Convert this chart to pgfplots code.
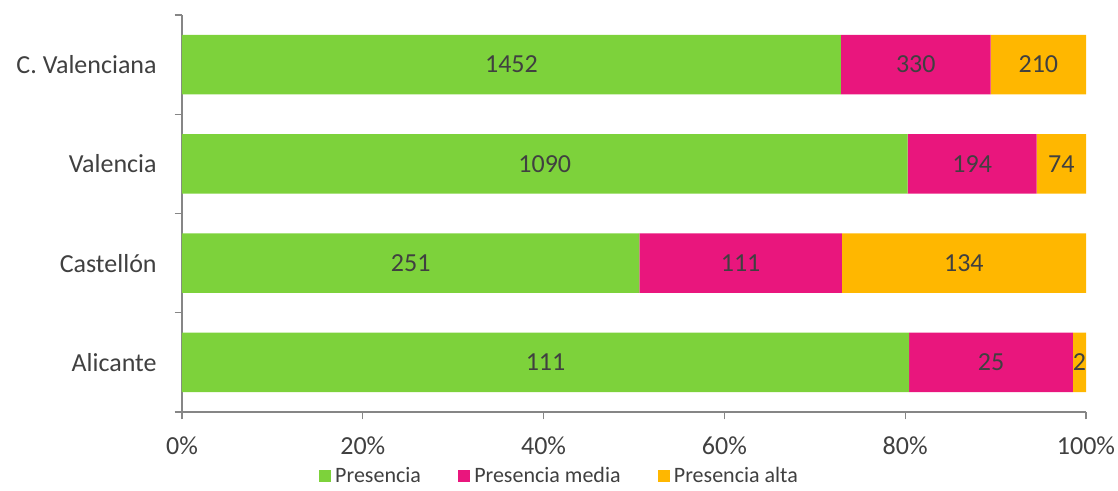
\documentclass[border=0pt]{standalone}
\usepackage{pgfplots}
\pgfplotsset{compat=1.18}
\usepackage{pgfplotstable}
\usepackage{fontspec}
\setmainfont{Carlito}
\definecolor{cgreen}{RGB}{125,210,59}
\definecolor{cpink}{RGB}{233,22,125}
\definecolor{corange}{RGB}{255,183,0}
\definecolor{axgray}{RGB}{134,134,134}
\definecolor{txt}{RGB}{64,64,64}

% percentages of each row (counts: 111/25/2, 251/111/134, 1090/194/74, 1452/330/210)
\pgfplotstableread{
y pres med alta
0 80.435 18.116 1.449
1 50.605 22.379 27.016
2 80.265 14.286 5.449
3 72.892 16.566 10.542
}\pct

\pgfplotstableread{
x y n
40.217 0 111
89.493 0 25
99.275 0 2
25.302 1 251
61.794 1 111
86.492 1 134
40.133 2 1090
87.408 2 194
97.276 2 74
36.446 3 1452
81.175 3 330
94.729 3 210
}\labels

\begin{document}
\begin{tikzpicture}
\useasboundingbox (-136.5pt,-58.5pt) rectangle (702pt,309pt);
\pgfplotsset{
  common/.style={
    width=678pt, height=297.75pt, scale only axis,
    xmin=0, xmax=100, ymin=-0.5, ymax=3.5,
    enlargelimits=false,
  }
}
\begin{axis}[
  common,
  xbar stacked, bar width=0.6,
  axis x line*=bottom, axis y line*=left,
  axis line style={draw=axgray, line width=1pt},
  tick style={draw=axgray, line width=1pt},
  tick align=outside, major tick length=5.5pt,
  xtick={0,20,...,100},
  /pgf/number format/assume math mode=true,
  xticklabel={\pgfmathprintnumber{\tick}\%},
  xticklabel style={font=\fontsize{19.5}{23}\selectfont, text=txt, yshift=-9.5pt},
  ytick={-0.5,0.5,1.5,2.5,3.5},
  yticklabels={Alicante,Castellón,Valencia,C. Valenciana,{}},
  yticklabel style={font=\fontsize{19.5}{23}\selectfont, text=txt, yshift=37.22pt, xshift=-10pt},
  legend style={at={(0.418,-0.128)}, anchor=north, draw=none, legend columns=3,
    font=\fontsize{16.5}{19}\selectfont, text=txt, inner sep=1pt,
    /tikz/every even column/.append style={column sep=26pt},
    /tikz/every odd column/.append style={column sep=1pt}},
  legend image code/.code={\fill[#1] (0pt,-4.5pt) rectangle (9pt,4.5pt);},
]
\addplot[fill=cgreen, draw=none] table[x=pres, y=y] {\pct};
\addplot[fill=cpink, draw=none] table[x=med, y=y] {\pct};
\addplot[fill=corange, draw=none] table[x=alta, y=y] {\pct};
\legend{Presencia, Presencia media, Presencia alta}
\end{axis}
\begin{axis}[
  common, hide axis,
]
\addplot[draw=none, mark=none, nodes near coords, point meta=explicit symbolic,
  nodes near coords style={anchor=center, font=\fontsize{19.5}{23}\selectfont, text=txt}]
  table[x=x, y=y, meta=n] {\labels};
\end{axis}
\end{tikzpicture}
\end{document}
